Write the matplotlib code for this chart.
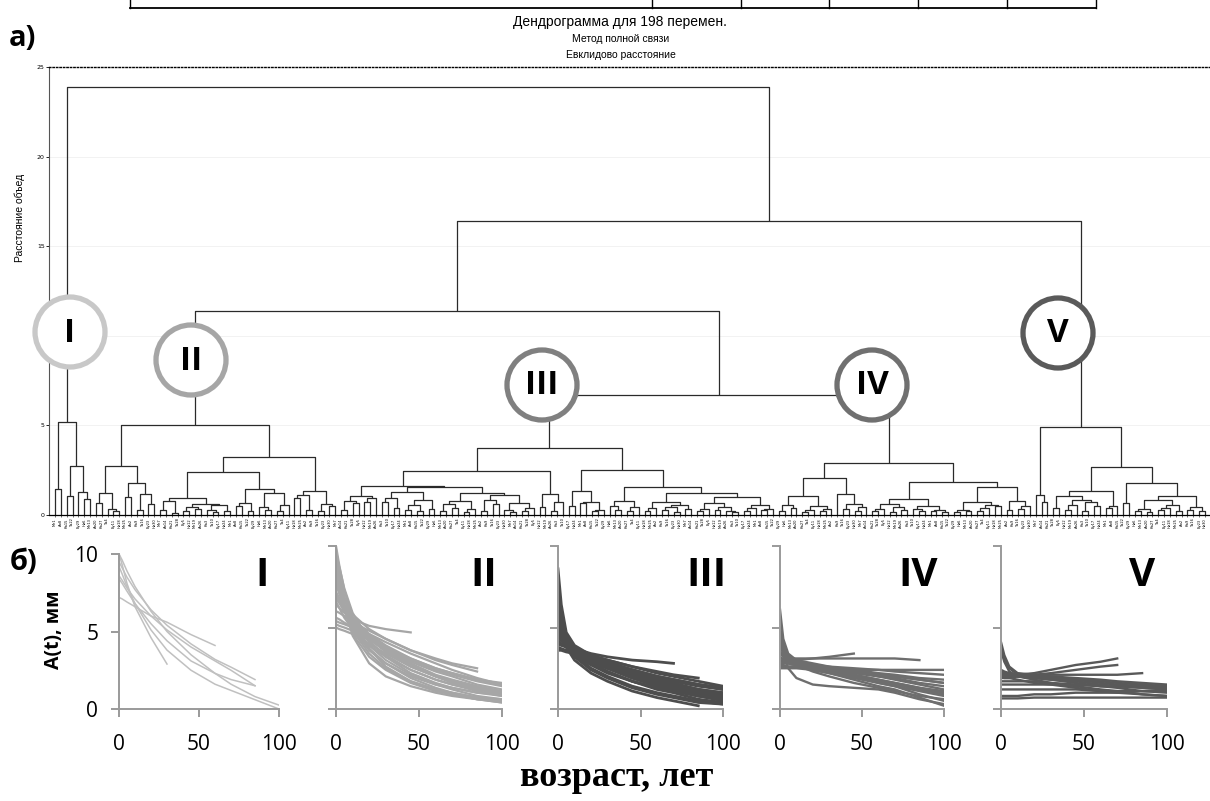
import numpy as np
import matplotlib
matplotlib.use("Agg")
import matplotlib.pyplot as plt
from matplotlib.patches import Circle

# ---------------- dendrogram data (heights) ----------------
# notation: x = leaf, (A,B)h = merge of A and B at height h
clust_I = "((x,x)1.45,((x,x)1.08,(x,(x,x)0.9)1.28)2.73)5.2"
clust_II = """((((x,x)0.65,(x,(x,x)0.2)0.32)1.25,((x,x)0.99,((x,x)0.3,(x,x)0.6)1.17)1.77)2.75,
 (((((x,x)0.3,(x,x)0.13)0.78,(((x,x)0.2,(x,x)0.35)0.45,((x,(x,x)0.15)0.3,(x,x)0.25)0.55)0.6)0.97,
   (((x,x)0.5,(x,x)0.2)0.65,((x,(x,x)0.3)0.45,((x,x)0.2,x)0.55)1.25)1.45)2.38,
  (((x,x)0.97,(x,x)0.3)1.1,((x,x)0.2,(x,x)0.5)0.6)1.34)3.26)5.0"""
clust_III = """((((((x,x)0.3,(x,x)0.65)0.8,((x,x)0.7,x)0.97)1.05,
   ((((x,x)0.7,(x,x)0.4)0.97,(((x,x)0.3,(x,x)0.2)0.55,(x,x)0.35)0.83)1.3,
    ((((x,x)0.25,(x,x)0.4)0.6,((x,x)0.15,x)0.35)0.78,
     (((x,x)0.2,(x,x)0.6)0.85,((x,(x,x)0.15)0.3,((x,x)0.25,x)0.4)0.65)1.1)1.25)1.58)1.62,
  ((x,x)0.45,((x,x)0.2,x)0.7)1.15)2.47,
 (((x,x)0.52,((x,x)0.65,((x,x)0.2,x)0.3)0.7)1.34,
  (((x,(x,x)0.3)0.5,((x,x)0.2,x)0.45)0.8,
   ((((x,x)0.25,x)0.4,(((x,x)0.3,(x,x)0.15)0.45,(x,x)0.35)0.55)0.7,
    ((((x,x)0.2,x)0.35,((x,x)0.3,(x,(x,x)0.15)0.25)0.45)0.65,
     (((x,x)0.2,x)0.4,((x,x)0.3,x)0.35)0.55)1.02)1.25)1.58)2.5)3.72"""
clust_IV = """(((((x,x)0.2,(x,x)0.4)0.56,(((x,x)0.15,x)0.3,((x,x)0.2,x)0.35)0.5)1.06,
  (x,((x,x)0.35,((x,x)0.2,x)0.45)0.6)1.15)2.08,
 (((((x,x)0.2,x)0.35,((x,x)0.15,(x,x)0.3)0.45)0.6,((x,(x,x)0.2)0.35,((x,x)0.25,(x,x)0.15)0.3)0.5)0.89,
  ((((x,x)0.15,(x,x)0.2)0.3,(((x,x)0.25,x)0.4,(x,x)0.5)0.55)0.7,((x,x)0.3,((x,x)0.35,x)0.5)0.8)1.55)1.82)2.9"""
clust_V = """((x,(x,x)0.75)1.1,
 ((((x,x)0.4,(((x,x)0.3,x)0.55,((x,x)0.25,(x,x)0.5)0.7)0.85)1.06,((x,x)0.4,x)0.5)1.34,
  ((x,x)0.65,((((x,x)0.2,(x,x)0.15)0.35,(((x,x)0.3,x)0.4,(x,x)0.25)0.55)0.84,
   ((x,x)0.3,(x,x)0.2)0.47)1.08)1.77)2.66)4.93"""
h_III_IV = 6.7
h_II_rest = 11.4
h_with_V = 16.4
h_root = 23.9

leaf_prefix = ["Ме", "Ан", "Ка", "Та", "Бу", "Ни"]

# ---------------- growth curves A(t) ----------------
ages = [0, 2, 5, 10, 20, 30, 45, 60, 70, 85, 100]
nan = np.nan
curves_I = [
    [10.0, 9.6, 8.9, 7.9, 6.3, 5.0, 3.5, 2.3, 1.6, 0.8, 0.25],
    [10.0, 9.3, 8.1, 6.6, 4.6, 2.9, nan, nan, nan, nan, nan],
    [9.5, 9.1, 8.5, 7.7, 6.4, 5.4, 4.2, 3.2, 2.7, 1.9, nan],
    [8.6, 8.3, 7.8, 7.1, 6.0, 5.1, 4.0, 3.1, 2.5, 1.5, nan],
    [7.2, 7.1, 6.9, 6.6, 6.0, 5.6, 4.8, 4.1, nan, nan, nan],
    [8.4, 8.1, 7.6, 6.8, 5.5, 4.4, 3.1, 2.3, 1.9, 1.5, nan],
    [9.2, 8.7, 7.9, 6.8, 5.1, 3.8, 2.5, 1.6, 1.2, 0.6, 0.0],
]
curves_II = [
    [10.0, 8.8, 7.3, 5.6, 3.7, 2.6, 1.7, 1.2, 0.9, 0.6, 0.4],
    [9.6, 8.7, 7.4, 5.9, 4.2, 3.2, 2.2, 1.6, 1.3, 1.0, 0.8],
    [9.2, 8.1, 6.8, 5.3, 3.7, 2.8, 1.9, 1.3, 1.0, 0.7, 0.5],
    [8.8, 8.0, 6.9, 5.6, 4.5, 3.8, 2.9, 2.3, 2.0, 1.5, 1.2],
    [8.4, 7.7, 6.8, 5.8, 4.9, 4.3, 3.6, 3.1, 2.8, 2.5, nan],
    [8.0, 7.3, 6.4, 5.4, 4.3, 3.5, 2.6, 2.0, 1.7, 1.3, 1.0],
    [7.6, 7.1, 6.4, 5.6, 4.6, 3.9, 3.1, 2.5, 2.2, 1.8, 1.5],
    [7.2, 6.8, 6.1, 5.3, 4.1, 3.3, 2.4, 1.8, 1.5, 1.1, 0.8],
    [6.8, 6.5, 6.0, 5.3, 4.4, 3.7, 2.8, 2.1, 1.8, 1.4, 1.1],
    [6.4, 6.2, 5.9, 5.5, 5.1, 4.9, 4.7, nan, nan, nan, nan],
    [6.0, 5.9, 5.7, 5.3, 4.8, 4.3, 3.6, 3.0, 2.7, 2.3, nan],
    [5.6, 5.5, 5.3, 5.0, 4.4, 3.8, 3.0, 2.4, 2.1, 1.7, 1.4],
    [5.2, 5.1, 5.0, 4.8, 4.3, 3.8, 3.1, 2.5, 2.2, 1.8, 1.6],
    [5.0, 4.9, 4.8, 4.6, 4.0, 3.4, 2.6, 2.0, 1.7, 1.3, 1.0],
    [9.8, 8.3, 6.4, 4.5, 2.8, 2.0, 1.4, 1.0, 0.8, 0.6, 0.4],
    [9.0, 7.7, 6.1, 4.6, 3.2, 2.4, 1.6, 1.1, 0.9, 0.6, 0.5],
    [8.2, 7.3, 6.1, 4.9, 3.6, 2.8, 2.0, 1.5, 1.3, 1.0, 0.9],
    [7.8, 7.1, 6.2, 5.1, 3.9, 3.0, 2.1, 1.5, 1.2, 0.8, 0.6],
    [6.6, 6.2, 5.6, 4.9, 3.9, 3.2, 2.4, 1.8, 1.5, 1.2, 1.0],
    [5.4, 5.3, 5.2, 5.0, 4.6, 4.1, 3.4, 2.8, 2.4, 1.9, 1.5],
    [9.4, 8.0, 6.3, 4.8, 3.4, 2.5, 1.7, 1.2, 1.0, 0.7, 0.6],
    [7.0, 6.6, 6.0, 5.2, 4.3, 3.6, 2.7, 2.0, 1.6, 1.2, 0.9],
]
curves_III = [
    [8.6, 6.4, 4.7, 3.9, 3.3, 2.9, 2.3, 1.9, 1.6, 1.2, 1.0],
    [7.8, 5.9, 4.5, 3.8, 3.1, 2.6, 2.0, 1.5, 1.3, 0.9, 0.6],
    [7.2, 5.6, 4.4, 3.6, 2.9, 2.5, 1.9, 1.5, 1.3, 0.9, 0.7],
    [6.6, 5.3, 4.4, 3.7, 3.2, 2.8, 2.4, 2.0, 1.8, 1.5, 1.3],
    [6.2, 5.1, 4.3, 3.7, 3.3, 3.0, 2.6, 2.3, 2.1, 1.9, nan],
    [5.8, 4.9, 4.2, 3.6, 3.0, 2.6, 2.0, 1.6, 1.4, 1.0, 0.8],
    [5.4, 4.7, 4.1, 3.6, 3.1, 2.7, 2.2, 1.8, 1.5, 1.2, 1.0],
    [5.0, 4.5, 4.0, 3.5, 2.8, 2.3, 1.7, 1.3, 1.1, 0.8, 0.6],
    [4.8, 4.4, 4.0, 3.7, 3.4, 3.2, 3.0, 2.9, 2.8, nan, nan],
    [4.4, 4.2, 3.9, 3.6, 3.1, 2.7, 2.1, 1.7, 1.4, 1.0, 0.8],
    [4.0, 3.9, 3.8, 3.6, 3.2, 2.8, 2.3, 1.9, 1.7, 1.4, 1.2],
    [3.6, 3.6, 3.5, 3.4, 3.1, 2.8, 2.4, 2.0, 1.8, 1.5, 1.3],
    [7.0, 5.2, 3.9, 3.2, 2.4, 1.9, 1.3, 0.9, 0.7, 0.4, 0.3],
    [6.0, 4.8, 3.8, 3.0, 2.2, 1.7, 1.1, 0.7, 0.5, 0.2, nan],
    [5.6, 4.6, 3.9, 3.3, 2.7, 2.2, 1.7, 1.3, 1.1, 0.8, 0.6],
    [5.2, 4.6, 4.1, 3.7, 3.2, 2.9, 2.4, 2.0, 1.8, 1.5, 1.2],
    [4.6, 4.3, 4.0, 3.7, 3.3, 3.0, 2.6, 2.2, 2.0, 1.7, 1.4],
    [3.8, 3.7, 3.6, 3.4, 2.9, 2.5, 1.9, 1.4, 1.2, 0.8, 0.5],
    [6.4, 5.0, 4.1, 3.5, 2.8, 2.3, 1.7, 1.2, 1.0, 0.6, 0.4],
    [4.2, 4.0, 3.8, 3.5, 3.0, 2.6, 2.1, 1.7, 1.5, 1.2, 0.9],
    [5.9, 4.8, 4.0, 3.4, 2.9, 2.5, 2.0, 1.6, 1.4, 1.1, 0.9],
    [4.5, 4.2, 3.9, 3.3, 2.5, 2.0, 1.4, 1.0, 0.8, 0.5, 0.3],
]
curves_IV = [
    [6.1, 4.3, 3.4, 3.0, 2.8, 2.6, 2.3, 2.0, 1.8, 1.5, 1.2],
    [5.0, 4.0, 3.3, 2.9, 2.6, 2.4, 2.1, 1.8, 1.6, 1.3, 1.0],
    [4.6, 3.8, 3.2, 2.9, 2.7, 2.5, 2.3, 2.1, 2.0, 1.8, 1.6],
    [4.2, 3.6, 3.1, 2.7, 2.3, 2.0, 1.6, 1.3, 1.1, 0.8, 0.6],
    [3.8, 3.5, 3.2, 3.0, 3.1, 3.2, 3.4, nan, nan, nan, nan],
    [3.1, 3.1, 3.1, 3.1, 3.1, 3.1, 3.1, 3.1, 3.1, 3.0, nan],
    [3.5, 3.3, 3.1, 2.9, 2.7, 2.6, 2.5, 2.4, 2.3, 2.2, 2.1],
    [3.2, 3.0, 2.9, 2.8, 2.6, 2.5, 2.3, 2.1, 2.0, 1.8, 1.6],
    [3.0, 2.9, 2.8, 2.7, 2.5, 2.3, 2.0, 1.7, 1.5, 1.2, 0.9],
    [2.8, 2.8, 2.8, 2.7, 2.6, 2.5, 2.4, 2.2, 2.1, 1.9, 1.8],
    [2.6, 2.6, 2.6, 2.6, 2.5, 2.4, 2.2, 2.0, 1.9, 1.6, 1.4],
    [2.5, 2.5, 2.5, 2.5, 2.4, 2.2, 1.9, 1.6, 1.4, 1.1, 0.8],
    [4.5, 3.3, 2.5, 1.9, 1.5, 1.4, 1.3, 1.2, 1.0, 0.6, 0.3],
    [2.9, 2.9, 2.8, 2.7, 2.5, 2.3, 2.0, 1.6, 1.4, 0.9, 0.5],
    [3.4, 3.2, 3.0, 2.8, 2.6, 2.4, 2.1, 1.8, 1.6, 1.3, 1.1],
    [2.7, 2.7, 2.6, 2.6, 2.5, 2.5, 2.4, 2.4, 2.4, 2.4, 2.4],
    [3.9, 3.4, 3.0, 2.7, 2.4, 2.2, 1.8, 1.4, 1.2, 0.7, 0.2],
]
curves_V = [
    [4.1, 3.3, 2.6, 2.2, 2.1, 2.0, 1.9, 1.8, 1.7, 1.6, 1.5],
    [3.8, 3.1, 2.5, 2.1, 2.0, 1.9, 1.8, 1.6, 1.5, 1.4, 1.3],
    [2.0, 2.0, 2.0, 2.1, 2.2, 2.4, 2.7, 2.9, 3.1, nan, nan],
    [1.9, 1.9, 1.9, 2.0, 2.1, 2.2, 2.4, 2.6, 2.7, nan, nan],
    [2.2, 2.2, 2.1, 2.1, 2.1, 2.1, 2.1, 2.1, 2.1, 2.2, nan],
    [2.4, 2.3, 2.2, 2.1, 2.0, 1.9, 1.8, 1.7, 1.6, 1.5, 1.4],
    [2.1, 2.1, 2.0, 2.0, 1.9, 1.8, 1.7, 1.5, 1.4, 1.3, 1.2],
    [1.7, 1.7, 1.7, 1.7, 1.7, 1.6, 1.5, 1.4, 1.4, 1.3, 1.2],
    [2.3, 2.2, 2.1, 2.0, 1.8, 1.6, 1.4, 1.2, 1.1, 0.9, 0.8],
    [1.5, 1.5, 1.5, 1.5, 1.5, 1.5, 1.5, 1.4, 1.4, 1.4, 1.4],
    [1.2, 1.2, 1.2, 1.2, 1.2, 1.2, 1.2, 1.1, 1.1, 1.1, 1.1],
    [0.8, 0.8, 0.8, 0.8, 0.9, 0.9, 1.0, 1.0, 1.0, 1.1, 1.1],
    [0.65, 0.65, 0.65, 0.65, 0.7, 0.7, 0.7, 0.7, 0.7, 0.7, 0.7],
    [2.0, 1.9, 1.9, 1.8, 1.6, 1.5, 1.3, 1.1, 1.0, 0.9, 0.8],
    [3.6, 2.9, 2.3, 2.0, 1.9, 1.8, 1.6, 1.4, 1.3, 1.1, 1.0],
]
panel_names = ["I", "II", "III", "IV", "V"]
panel_colors = ["#c0c0c0", "#a6a6a6", "#4d4d4d", "#6e6e6e", "#595959"]
panel_lw = [1.1, 1.6, 2.0, 1.7, 1.7]
ring_colors = ["#c8c8c8", "#a6a6a6", "#808080", "#707070", "#5a5a5a"]


def parse(s):
    s = "".join(s.split())
    pos = 0

    def node():
        nonlocal pos
        if s[pos] == "x":
            pos += 1
            return None
        pos += 1
        a = node()
        pos += 1
        b = node()
        pos += 1
        j = pos
        while pos < len(s) and (s[pos].isdigit() or s[pos] == "."):
            pos += 1
        return (float(s[j:pos]), a, b)
    return node()


tree_str = "(%s,((%s,(%s,%s)%s)%s,%s)%s)%s" % (
    clust_I, clust_II, clust_III, clust_IV, h_III_IV, h_II_rest, clust_V, h_with_V, h_root)
tree = parse(tree_str)

W, H = 1210, 801
fig = plt.figure(figsize=(W / 100, H / 100), dpi=100)
narrow = ["Liberation Sans Narrow", "Liberation Sans", "DejaVu Sans"]
bold_font = ["Open Sans", "DejaVu Sans"]


def fbox(l, r, t, b):
    return [l / W, (H - b) / H, (r - l) / W, (b - t) / H]


# ---------------- dendrogram ----------------
ax = fig.add_axes(fbox(49, 1212, 67, 515))
counter = [0]


def draw(t):
    if t is None:
        x = counter[0]
        counter[0] += 1
        return x, 0.0
    h, a, b = t
    xa, ha = draw(a)
    xb, hb = draw(b)
    ax.plot([xa, xa, xb, xb], [ha, h, h, hb], color="#2a2a2a", lw=0.9, solid_capstyle="butt")
    return (xa + xb) / 2, h


draw(tree)
n_leaves = counter[0]
ax.set_xlim(-1.03, n_leaves + 0.2)
ax.set_ylim(0, 25)
ax.set_yticks([0, 5, 10, 15, 20, 25])
ax.tick_params(axis="y", labelsize=4.5, length=2, width=0.6, pad=1)
for yv in [5, 10, 15, 20]:
    ax.axhline(yv, color="#f0f0f0", lw=0.6, zorder=0)
ax.set_xticks(range(n_leaves))
ax.set_xticklabels(["%s%d" % (leaf_prefix[i % len(leaf_prefix)], (i * 7) % 30 + 1)
                    for i in range(n_leaves)], rotation=90, fontsize=2.6)
ax.tick_params(axis="x", length=1.5, width=0.4, pad=1)
ax.spines["right"].set_visible(False)
ax.spines["top"].set_linestyle((0, (1, 1.5)))
ax.spines["top"].set_linewidth(1.0)
ax.spines["left"].set_color("#555555")
ax.spines["bottom"].set_linewidth(0.9)
fig.text(20 / W, 1 - 218 / H, "Расстояние объед", rotation=90, fontsize=7.5,
         family=narrow, ha="center", va="center")

fig.text(620 / W, 1 - 22 / H, "Дендрограмма для 198 перемен.", fontsize=10,
         family=narrow, ha="center", va="center")
fig.text(621 / W, 1 - 39 / H, "Метод полной связи", fontsize=7.5,
         family=narrow, ha="center", va="center")
fig.text(621 / W, 1 - 55 / H, "Евклидово расстояние", fontsize=7.5,
         family=narrow, ha="center", va="center")

# ---------------- growth panels ----------------
boxes = [(119, 279, 554, 709), (336, 502, 546, 709), (558, 723, 546, 709),
         (780, 944, 546, 709), (1001, 1167, 546, 709)]
numeral_x = [262, 484, 706, 918, 1142]
all_curves = [curves_I, curves_II, curves_III, curves_IV, curves_V]
for k, (box, curves) in enumerate(zip(boxes, all_curves)):
    pa = fig.add_axes(fbox(*box))
    for c in curves:
        pa.plot(ages, c, color=panel_colors[k], lw=panel_lw[k])
    pa.set_xlim(0, 100)
    pa.set_ylim(0, 10)
    pa.set_xticks([0, 50, 100])
    pa.set_yticks([0, 5, 10])
    for s in ["top", "right"]:
        pa.spines[s].set_visible(False)
    for s in ["left", "bottom"]:
        pa.spines[s].set_color("#9a9a9a")
        pa.spines[s].set_linewidth(1.4)
    pa.tick_params(axis="both", color="#9a9a9a", width=1.4, length=6,
                   labelsize=15, pad=12)
    pa.tick_params(axis="y", pad=9)
    for lab in pa.get_xticklabels() + pa.get_yticklabels():
        lab.set_family(bold_font)
    if k > 0:
        pa.set_yticklabels([])
    fig.text(numeral_x[k] / W, 1 - 575 / H, panel_names[k], ha="center", va="center",
             fontsize=29, fontweight="bold", family=bold_font)

fig.text(54 / W, 1 - 630 / H, "A(t), мм", rotation=90, fontsize=14, fontweight="bold",
         family=bold_font, ha="center", va="center")
fig.text(617 / W, 1 - 778 / H, "возраст, лет", fontsize=26, fontweight="bold",
         family=["Liberation Serif", "DejaVu Serif"], ha="center", va="center")
fig.text(22 / W, 1 - 38 / H, "а)", fontsize=21, fontweight="bold", family=bold_font,
         ha="center", va="center")
fig.text(24 / W, 1 - 562 / H, "б)", fontsize=21, fontweight="bold", family=bold_font,
         ha="center", va="center")

# ---------------- overlay: circles and header table line ----------------
ov = fig.add_axes([0, 0, 1, 1], zorder=10)
ov.set_xlim(0, W)
ov.set_ylim(H, 0)
ov.axis("off")
ov.patch.set_alpha(0)
circle_xy = [(70, 332), (191, 360), (542, 385), (872, 385), (1058, 333)]
for (cx, cy), col, name in zip(circle_xy, ring_colors, panel_names):
    ov.add_patch(Circle((cx, cy), 35, facecolor="white", edgecolor=col, lw=3.8))
    ov.text(cx, cy + 1, name, ha="center", va="center", fontsize=24,
            fontweight="bold", family=bold_font)
table_x = [130, 652, 741, 829, 918, 1007, 1096]
ov.plot([table_x[0], table_x[-1]], [8, 8], color="black", lw=1.3)
for tx in table_x:
    ov.plot([tx, tx], [0, 8], color="black", lw=1.0)

fig.savefig("out.png", dpi=100)
